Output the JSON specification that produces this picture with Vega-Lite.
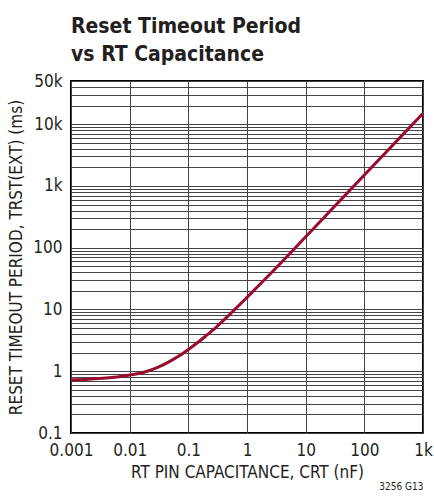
{
  "$schema": "https://vega.github.io/schema/vega-lite/v6.json",
  "width": 352,
  "height": 352,
  "autosize": {"type": "none"},
  "padding": {"left": 71, "top": 81, "right": 11, "bottom": 69},
  "background": "white",
  "title": {
    "text": ["Reset Timeout Period", "vs RT Capacitance"],
    "anchor": "start",
    "frame": "group",
    "font": "DejaVu Sans Condensed",
    "fontSize": 21,
    "fontWeight": "bold",
    "color": "#231f20",
    "lineHeight": 28,
    "offset": 7
  },
  "config": {
    "view": {"stroke": "#000000", "strokeWidth": 2},
    "font": "DejaVu Sans Condensed",
    "axis": {"labelColor": "#231f20", "titleColor": "#231f20", "labelFont": "DejaVu Sans Condensed", "titleFont": "DejaVu Sans Condensed", "titleFontWeight": "normal"}
  },
  "data": {
    "values": [
      {"cap": 0.001, "t": 0.73},
      {"cap": 0.002, "t": 0.745},
      {"cap": 0.003, "t": 0.76},
      {"cap": 0.005, "t": 0.79},
      {"cap": 0.007, "t": 0.82},
      {"cap": 0.01, "t": 0.87},
      {"cap": 0.015, "t": 0.93},
      {"cap": 0.02, "t": 1.0},
      {"cap": 0.03, "t": 1.15},
      {"cap": 0.05, "t": 1.47},
      {"cap": 0.07, "t": 1.78},
      {"cap": 0.1, "t": 2.25},
      {"cap": 0.15, "t": 3.0},
      {"cap": 0.2, "t": 3.75},
      {"cap": 0.3, "t": 5.2},
      {"cap": 0.5, "t": 8.2},
      {"cap": 0.7, "t": 11.2},
      {"cap": 1, "t": 15.7},
      {"cap": 2, "t": 30.5},
      {"cap": 5, "t": 75},
      {"cap": 10, "t": 150},
      {"cap": 20, "t": 300},
      {"cap": 50, "t": 750},
      {"cap": 100, "t": 1500},
      {"cap": 200, "t": 3000},
      {"cap": 500, "t": 7500},
      {"cap": 1000, "t": 15000}
    ]
  },
  "layer": [
    {
      "mark": {"type": "line", "opacity": 0},
      "encoding": {
        "x": {
          "field": "cap", "type": "quantitative",
          "scale": {"type": "log", "domain": [0.001, 1000], "nice": false},
          "axis": {"orient": "bottom", "labels": false, "ticks": false, "domain": false, "grid": false,
                   "title": "3256 G13", "titleAnchor": "end", "titleFontSize": 10, "titlePadding": 48}
        },
        "y": {
          "field": "t", "type": "quantitative",
          "scale": {"type": "log", "domain": [0.1, 50000], "nice": false},
          "axis": {"orient": "right", "labels": false, "ticks": false, "domain": false, "grid": true,
                   "gridColor": "#444444", "gridWidth": 1, "gridOpacity": 1, "title": null,
                   "values": [0.2,0.3,0.4,0.5,0.6,0.7,0.8,0.9,2,3,4,5,6,7,8,9,20,30,40,50,60,70,80,90,200,300,400,500,600,700,800,900,2000,3000,4000,5000,6000,7000,8000,9000,20000,30000,40000]}
        }
      }
    },
    {
      "mark": {"type": "line", "color": "#9b0b2e", "strokeWidth": 3, "interpolate": "monotone", "clip": true},
      "encoding": {
        "x": {
          "field": "cap", "type": "quantitative",
          "scale": {"type": "log", "domain": [0.001, 1000], "nice": false},
          "axis": {"orient": "bottom", "values": [0.001, 0.01, 0.1, 1, 10, 100, 1000],
                   "labelExpr": "datum.value >= 1000 ? (datum.value/1000) + 'k' : '' + datum.value",
                   "ticks": false, "domain": false, "grid": true, "gridColor": "#444444", "gridWidth": 1, "gridOpacity": 1,
                   "labelFontSize": 17, "labelPadding": 9, "labelFlush": false,
                   "title": "RT PIN CAPACITANCE, CRT (nF)", "titleFontSize": 17, "titlePadding": 6}
        },
        "y": {
          "field": "t", "type": "quantitative",
          "scale": {"type": "log", "domain": [0.1, 50000], "nice": false},
          "axis": {"orient": "left", "values": [0.1, 1, 10, 100, 1000, 10000, 50000],
                   "labelExpr": "datum.value >= 1000 ? (datum.value/1000) + 'k' : '' + datum.value",
                   "ticks": false, "domain": false, "grid": true, "gridColor": "#444444", "gridWidth": 1, "gridOpacity": 1,
                   "labelFontSize": 17, "labelPadding": 9, "labelFlush": false,
                   "title": "RESET TIMEOUT PERIOD, TRST(EXT) (ms)", "titleFontSize": 17, "titlePadding": 7}
        }
      }
    }
  ],
  "resolve": {"axis": {"x": "independent", "y": "independent"}}
}
